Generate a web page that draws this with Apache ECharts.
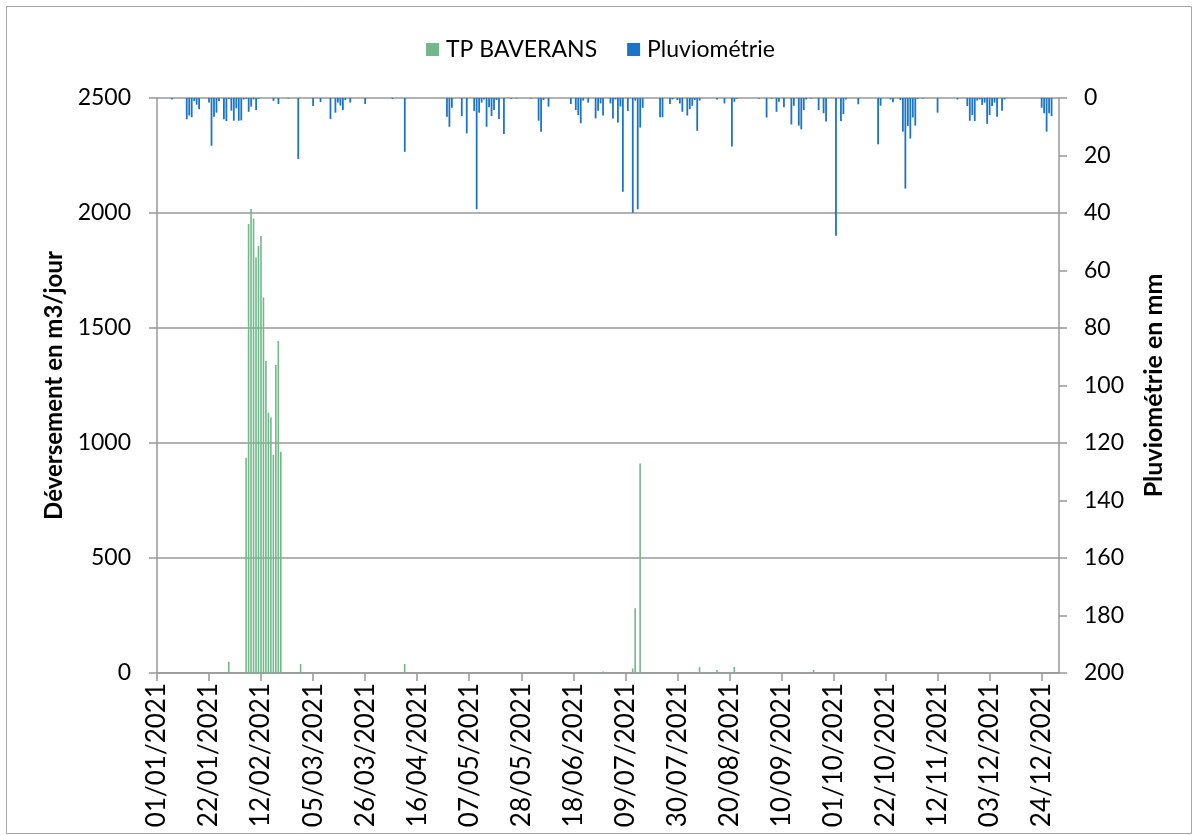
<!DOCTYPE html>
<html>
<head>
<meta charset="utf-8">
<script src="https://cdn.jsdelivr.net/npm/echarts@6/dist/echarts.min.js"></script>
<style>
html,body{margin:0;padding:0;background:#fff;}
#chart{width:1192px;height:835px;}
</style>
</head>
<body>
<div id="chart"></div>
<script>
// Year of the daily series
const YEAR = 2021;
// Series names
const seriesNames = ['TP BAVERANS', 'Pluviométrie'];
// Overflow volumes (m3/jour): [day index from 01/01, value]
const deversement = [
  [29, 49], [36, 936], [37, 1952], [38, 2017], [39, 1976], [40, 1807], [41, 1856],
  [42, 1900], [43, 1633], [44, 1356], [45, 1133], [46, 1111], [47, 948], [48, 1339],
  [49, 1443], [50, 962], [58, 39], [76, 4], [100, 39], [180, 7], [192, 20], [193, 281],
  [195, 911], [219, 25], [226, 13], [233, 26], [265, 13]
];
// Rainfall (mm): [day index from 01/01, value]
const pluvio = [
  [6, 0.5], [12, 7.4], [13, 6.1], [14, 6.7], [15, 1.0], [16, 2.3], [17, 3.9], [21, 1.6],
  [22, 16.6], [23, 6.5], [24, 5.1], [25, 1.0], [27, 7.4], [28, 8.0], [29, 0.3], [30, 4.4],
  [31, 7.9], [32, 3.6], [33, 7.9], [34, 7.8], [35, 0.5], [36, 0.3], [37, 4.8], [38, 3.0],
  [39, 0.5], [40, 4.2], [41, 0.3], [47, 1.0], [49, 2.1], [53, 0.2], [57, 21.2], [63, 2.8],
  [66, 1.4], [70, 7.3], [72, 5.1], [73, 1.6], [74, 2.6], [75, 4.2], [76, 0.7], [78, 1.6],
  [84, 2.1], [95, 0.3], [100, 18.7], [117, 6.5], [118, 10.0], [119, 3.4], [123, 6.3],
  [125, 12.3], [128, 4.5], [129, 38.7], [130, 5.1], [131, 1.6], [132, 0.5], [133, 10.0],
  [134, 3.2], [135, 6.3], [136, 4.2], [137, 0.7], [138, 7.3], [140, 12.5], [143, 0.3],
  [145, 0.2], [151, 0.2], [154, 7.9], [155, 11.7], [156, 0.7], [158, 3.0], [167, 2.1],
  [169, 4.2], [170, 5.9], [171, 8.8], [172, 0.9], [174, 1.6], [177, 7.1], [178, 4.4],
  [179, 1.9], [180, 6.1], [183, 1.9], [184, 7.1], [185, 0.5], [186, 8.5], [187, 3.0],
  [188, 32.6], [190, 4.5], [192, 39.9], [193, 0.9], [194, 38.7], [195, 10.3], [196, 3.4],
  [203, 6.7], [204, 6.7], [207, 2.1], [208, 0.5], [210, 0.7], [211, 1.9], [212, 4.8],
  [214, 6.1], [215, 3.9], [216, 2.7], [217, 0.7], [218, 11.4], [219, 0.9], [226, 0.5],
  [229, 1.9], [232, 16.9], [233, 1.3], [234, 0.2], [243, 0.2], [246, 6.8], [248, 0.2],
  [250, 4.8], [251, 1.3], [253, 3.2], [256, 9.2], [257, 2.7], [259, 9.6], [260, 10.9],
  [261, 4.2], [262, 0.5], [264, 0.2], [267, 4.2], [269, 5.3], [270, 8.2], [274, 47.9],
  [276, 8.0], [277, 5.6], [278, 0.5], [283, 2.2], [291, 16.1], [292, 2.7], [296, 0.5],
  [297, 1.5], [300, 0.7], [301, 11.7], [302, 31.5], [303, 9.7], [304, 14.1], [305, 6.8],
  [306, 9.6], [307, 0.3], [309, 0.2], [315, 5.1], [323, 0.5], [327, 2.8], [328, 7.9],
  [329, 5.9], [330, 8.0], [331, 0.9], [332, 0.5], [333, 2.4], [334, 1.6], [335, 9.0],
  [336, 5.9], [337, 2.8], [338, 1.6], [339, 6.5], [341, 4.4], [342, 0.5], [357, 3.4],
  [358, 5.3], [359, 11.7], [360, 5.3], [361, 6.3]
];
// Axis titles
const leftAxisName = 'Déversement en m3/jour';
const rightAxisName = 'Pluviométrie en mm';

// Build categories (every day of the year, dd/mm/yyyy)
const categories = [];
for (let d = new Date(Date.UTC(YEAR, 0, 1)); d.getUTCFullYear() === YEAR; d.setUTCDate(d.getUTCDate() + 1)) {
  const dd = String(d.getUTCDate()).padStart(2, '0');
  const mm = String(d.getUTCMonth() + 1).padStart(2, '0');
  categories.push(dd + '/' + mm + '/' + YEAR);
}
function toSeries(pairs) {
  const arr = new Array(categories.length).fill(0);
  pairs.forEach(p => { arr[p[0]] = p[1]; });
  return arr;
}

const FONT = 'Lato';
const GRID_COLOR = '#989898';
const chart = echarts.init(document.getElementById('chart'), null, {renderer: 'canvas'});
chart.setOption({
  animation: false,
  backgroundColor: '#fff',
  textStyle: {fontFamily: FONT, color: '#000'},
  graphic: [{
    type: 'rect', left: 4, top: 4,
    shape: {width: 1185, height: 827},
    style: {fill: 'none', stroke: '#a6a6a6', lineWidth: 1},
    silent: true, z: -1
  }],
  legend: {
    top: 33, left: 421,
    itemWidth: 13, itemHeight: 13, itemGap: 30,
    icon: 'rect',
    textStyle: {fontFamily: FONT, fontSize: 23, color: '#000', padding: [0, 0, 0, 2]},
    data: seriesNames
  },
  grid: {left: 157, right: 133, top: 98, bottom: 162, containLabel: false, outerBoundsMode: 'none'},
  xAxis: {
    type: 'category',
    data: categories,
    boundaryGap: false,
    axisLine: {lineStyle: {color: GRID_COLOR, width: 1.5}},
    axisTick: {interval: 20, length: 8, lineStyle: {color: GRID_COLOR, width: 1.5}},
    axisLabel: {interval: 20, rotate: 90, margin: 10, fontFamily: FONT, fontSize: 26, color: '#000'},
    splitLine: {show: false}
  },
  yAxis: [{
    type: 'value', min: 0, max: 2500, interval: 500,
    name: leftAxisName, nameLocation: 'middle', nameGap: 83, nameRotate: 90,
    nameTextStyle: {fontFamily: FONT, fontSize: 24, fontWeight: 'bold', color: '#000'},
    axisLine: {show: true, lineStyle: {color: GRID_COLOR, width: 1.5}},
    axisTick: {show: true, inside: false, length: 8, lineStyle: {color: GRID_COLOR, width: 1.5}},
    axisLabel: {margin: 26, fontFamily: FONT, fontSize: 23, color: '#000', formatter: v => String(v)},
    splitLine: {show: true, lineStyle: {color: GRID_COLOR, width: 1.5}}
  }, {
    type: 'value', min: 0, max: 200, interval: 20, inverse: true, position: 'right',
    name: rightAxisName, nameLocation: 'middle', nameGap: 82, nameRotate: 90,
    nameTextStyle: {fontFamily: FONT, fontSize: 25, fontWeight: 'bold', color: '#000'},
    axisLine: {show: true, lineStyle: {color: GRID_COLOR, width: 1.5}},
    axisTick: {show: true, inside: false, length: 8, lineStyle: {color: GRID_COLOR, width: 1.5}},
    axisLabel: {margin: 25, fontFamily: FONT, fontSize: 23, color: '#000', formatter: v => String(v)},
    splitLine: {show: false}
  }],
  series: [{
    name: seriesNames[0], type: 'bar', yAxisIndex: 0,
    data: toSeries(deversement),
    barWidth: 1.6, barGap: '-100%',
    itemStyle: {color: '#72b88b'},
    z: 2
  }, {
    name: seriesNames[1], type: 'bar', yAxisIndex: 1,
    data: toSeries(pluvio),
    barWidth: 1.8, barGap: '-100%',
    itemStyle: {color: '#1a75c9'},
    z: 3
  }]
});
</script>
</body>
</html>
